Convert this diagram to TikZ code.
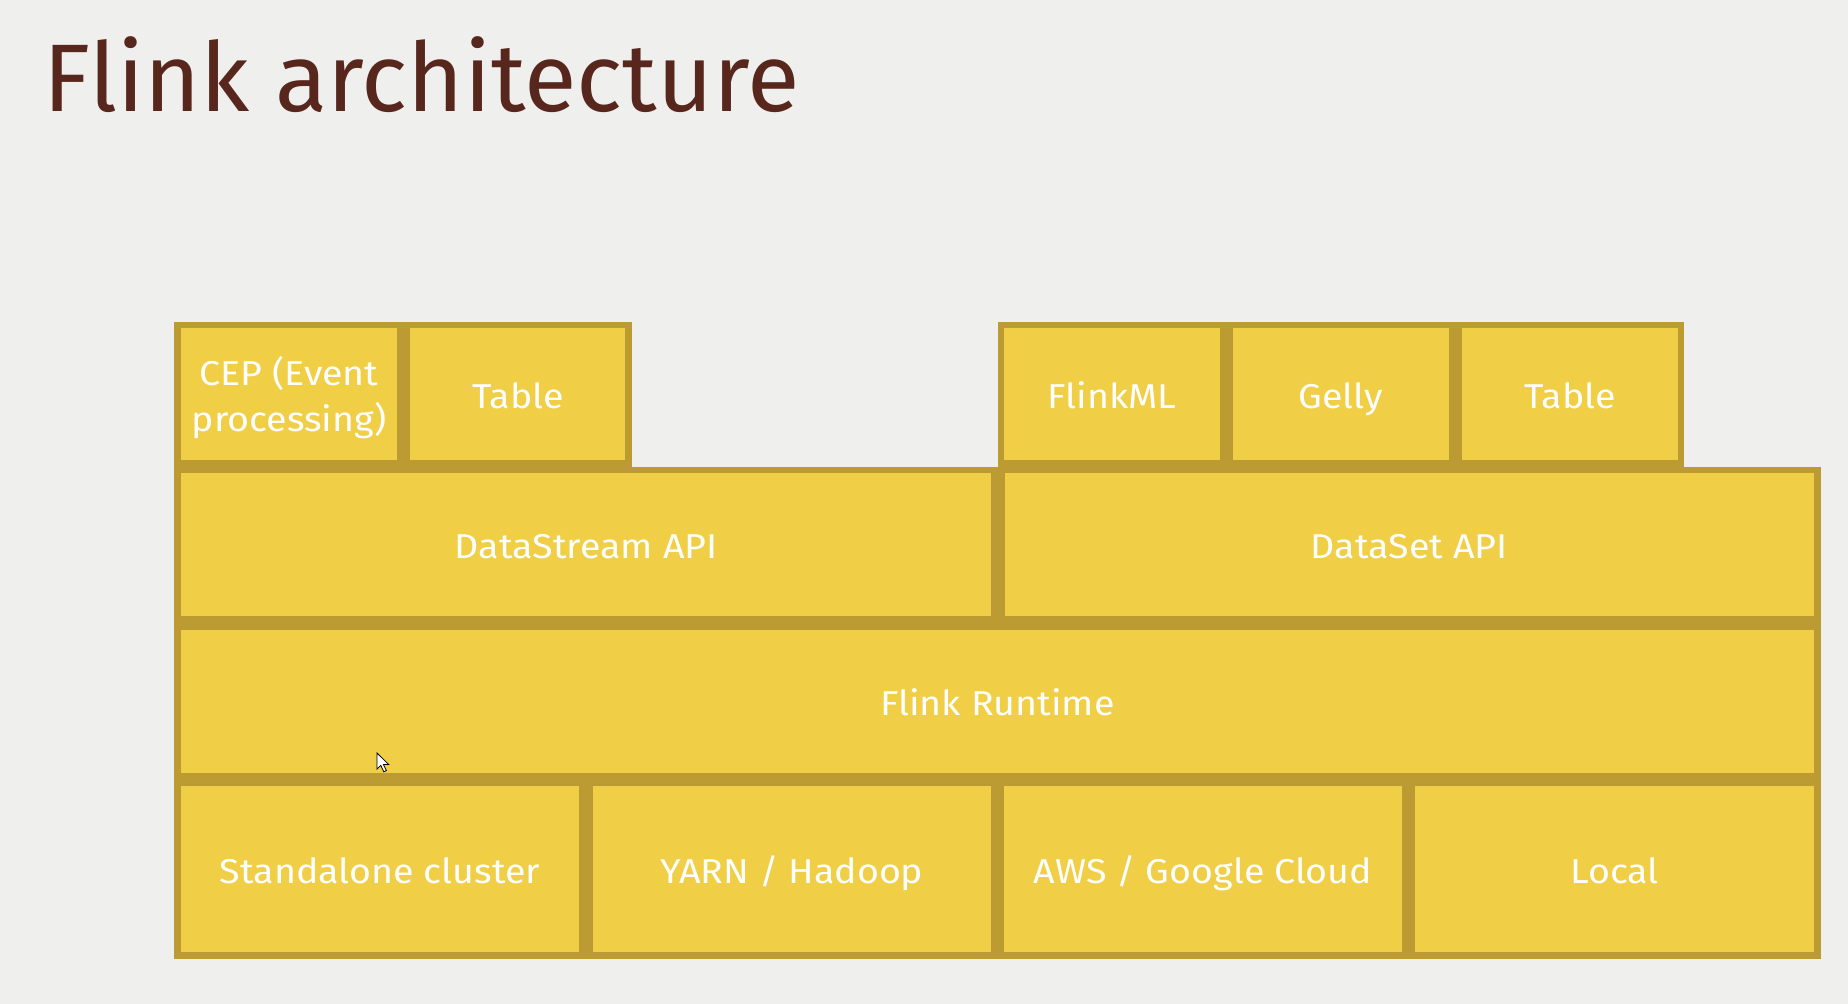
\documentclass[tikz,border=0pt]{standalone}
\usepackage{fontspec}
\setmainfont{Fira Sans}
\newfontfamily\lblfont{Fira Sans}[FakeStretch=1.09]
\definecolor{bgc}{RGB}{239,239,237}
\definecolor{boxfill}{RGB}{240,206,70}
\definecolor{boxline}{RGB}{188,155,50}
\definecolor{titlec}{RGB}{87,38,28}
\begin{document}
\begin{tikzpicture}[x=1pt,y=-1pt,
  blk/.style={draw=boxline,fill=boxfill,line width=6.6pt,rectangle,inner sep=0pt,outer sep=0pt,
    text=white,font=\lblfont\fontsize{34.5}{46}\selectfont,align=center,
    text height=27.8pt,text depth=0pt},
  title/.style={anchor=base west,inner sep=0pt,text=titlec,font=\fontsize{96}{110}\selectfont}]
\useasboundingbox (0,0) rectangle (1848,1004);
\fill[bgc] (0,0) rectangle (1848,1004);
\node[title] (ttl) at (43,111) {Flink architecture};
% top row
\node[blk,minimum width=222.8pt,minimum height=138.4pt,text height=73.8pt] (cep) at (289,394.2) {CEP (Event\\processing)};
\node[blk,minimum width=221.7pt,minimum height=138.4pt] (tbl1) at (517.85,394.2) {Table};
\node[blk,minimum width=222pt,minimum height=138.4pt] (fml) at (1112,394.2) {FlinkML};
\node[blk,minimum width=222.6pt,minimum height=138.4pt] (gel) at (1340.9,394.2) {Gelly};
\node[blk,minimum width=222.2pt,minimum height=138.4pt] (tbl2) at (1569.9,394.2) {Table};
% API row
\node[blk,minimum width=817.1pt,minimum height=149.7pt] (dstream) at (586.15,544.85) {DataStream API};
\node[blk,minimum width=815.9pt,minimum height=149.7pt] (dset) at (1409.25,544.85) {DataSet API};
% runtime
\node[blk,minimum width=1639.6pt,minimum height=149.7pt] (rt) at (997.4,701.15) {Flink Runtime};
% deployment row
\node[blk,minimum width=405.1pt,minimum height=173.1pt] (sa) at (380.15,869.15) {Standalone cluster};
\node[blk,minimum width=404.9pt,minimum height=173.1pt] (yarn) at (791.75,869.15) {YARN / Hadoop};
\node[blk,minimum width=404.4pt,minimum height=173.1pt] (aws) at (1203,869.15) {AWS / Google Cloud};
\node[blk,minimum width=405.4pt,minimum height=173.1pt] (loc) at (1614.5,869.15) {Local};
% mouse cursor
\draw[fill=white,draw=black,line width=0.8pt,line join=miter]
  (377,753) -- ++(0,16) -- ++(3.8,-3.6) -- ++(3,6.4) -- ++(2.6,-1.2) -- ++(-3,-6.2) -- ++(5.2,0) -- cycle;
\end{tikzpicture}
\end{document}
